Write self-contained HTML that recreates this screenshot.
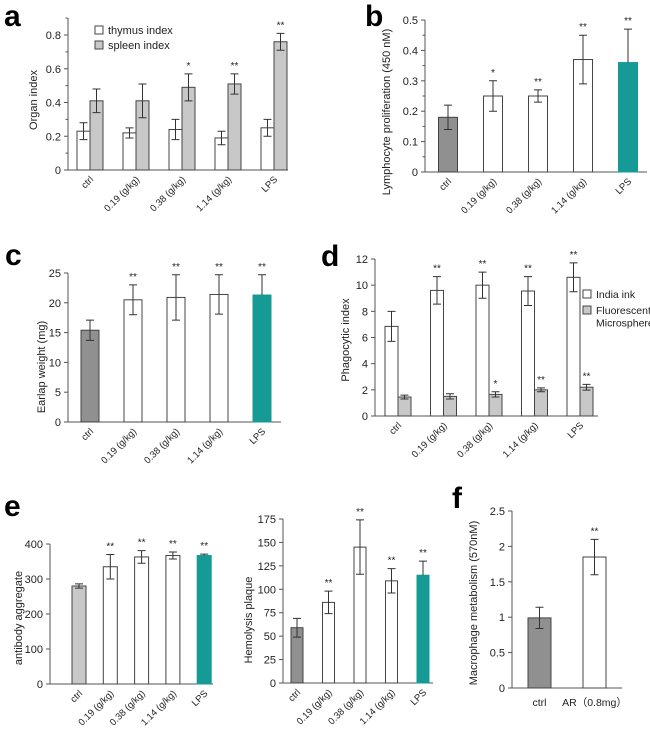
<!DOCTYPE html>
<html><head><meta charset="utf-8"><style>
html,body{margin:0;padding:0;background:#fff;}
svg{display:block;font-family:"Liberation Sans",Arial,sans-serif;}
.pl{font-weight:bold;font-size:30px;fill:#000;}
</style></head><body>
<svg id="fig" width="650" height="731" viewBox="0 0 650 731" xmlns="http://www.w3.org/2000/svg">
<text class="pl" x="4" y="26">a</text>
<text class="pl" x="365" y="26">b</text>
<text class="pl" x="5" y="265">c</text>
<text class="pl" x="321" y="266">d</text>
<text class="pl" x="4" y="516">e</text>
<text class="pl" x="452" y="508">f</text>
</svg>
<script>
const doseCats = ["ctrl","0.19 (g/kg)","0.38 (g/kg)","1.14 (g/kg)","LPS"];
// a
const aThymus = [0.23,0.22,0.24,0.19,0.25];
const aThymusErr = [0.05,0.03,0.06,0.04,0.05];
const aSpleen = [0.41,0.41,0.49,0.51,0.76];
const aSpleenErr = [0.07,0.10,0.08,0.06,0.05];
const aSpleenStars = ["","","*","**","**"];
const aTicks = ["0","0.2","0.4","0.6","0.8"];
// b
const bVals = [0.18,0.25,0.25,0.37,0.36];
const bErr = [0.04,0.05,0.02,0.08,0.11];
const bStars = ["","*","**","**","**"];
const bTicks = ["0","0.1","0.2","0.3","0.4","0.5"];
// c
const cVals = [15.4,20.5,20.9,21.4,21.3];
const cErr = [1.7,2.5,3.8,3.3,3.4];
const cStars = ["","**","**","**","**"];
const cTicks = ["0","5","10","15","20","25"];
// d
const dInk = [6.85,9.6,10.0,9.55,10.6];
const dInkErr = [1.15,1.05,1.0,1.1,1.1];
const dInkStars = ["","**","**","**","**"];
const dFluor = [1.45,1.5,1.65,2.0,2.2];
const dFluorErr = [0.15,0.2,0.2,0.15,0.22];
const dFluorStars = ["","","*","**","**"];
const dTicks = ["0","2","4","6","8","10","12"];
// e left
const eAbVals = [280,335,363,367,367];
const eAbErr = [6,35,18,10,4];
const eAbStars = ["","**","**","**","**"];
const eAbTicks = ["0","100","200","300","400"];
// e right
const eHpVals = [59,86,145,109,115];
const eHpErr = [10,12,29,13,15];
const eHpStars = ["","**","**","**","**"];
const eHpTicks = ["0","25","50","75","100","125","150","175"];
// f
const fCats = ["ctrl","AR（0.8mg）"];
const fVals = [0.99,1.85];
const fErr = [0.15,0.25];
const fStars = ["","**"];
const fTicks = ["0","0.5","1","1.5","2","2.5"];

const NS="http://www.w3.org/2000/svg";
const svg=document.getElementById('fig');
function mk(tag,attrs,parent){const e=document.createElementNS(NS,tag);for(const k in attrs)e.setAttribute(k,attrs[k]);(parent||svg).appendChild(e);return e;}

function chart(c){
  const g=mk('g',{});
  
  
  const max=parseFloat(c.ticks[c.ticks.length-1]);
  const y=v=>c.y0-(v/max)*(c.y0-c.yTop);
  const x=i=>c.x0+i*c.pitch;
  const ya=mk('line',{x1:c.ox,y1:c.axisTop,x2:c.ox,y2:c.y0,stroke:'#555','stroke-width':1},g);
  
  
  const xa=mk('line',{x1:c.ox,y1:c.y0,x2:c.xEnd,y2:c.y0,stroke:'#555','stroke-width':1},g);
  
  
  c.ticks.forEach(t=>{
    const v=parseFloat(t),yy=y(v);
    mk('line',{x1:c.ox-4,y1:yy,x2:c.ox,y2:yy,stroke:'#555'},g);
    const tl=mk('text',{x:c.ox-7,y:yy+4,'text-anchor':'end','font-size':11,fill:'#222'},g);
    tl.textContent=t;
    
    
  });
  if(c.minor){const step=parseFloat(c.ticks[1])/2;for(let v=step;v<=max+step*0.99+(c.extra||0);v+=step*2){const yy=y(v);if(yy>=c.axisTop-0.5)mk('line',{x1:c.ox-2.5,y1:yy,x2:c.ox,y2:yy,stroke:'#555'},g);}}
  const yt=mk('text',{x:0,y:0,'text-anchor':'middle','font-size':11,fill:'#222',transform:`translate(${c.titleX},${c.titleY}) rotate(-90)`},g);
  yt.textContent=c.title;
  
  
  c.cats.forEach((cat,i)=>{
    let t;
    if(c.flatCats){t=mk('text',{x:x(i),y:c.y0+18,'text-anchor':'middle','font-size':10.5,fill:'#222'},g);}
    else{t=mk('text',{x:0,y:0,'text-anchor':'end','font-size':9.5,fill:'#222',transform:`translate(${x(i)+4},${c.y0+10}) rotate(-45)`},g);}
    t.textContent=cat;
    
    
  });
  c.series.forEach(s=>{
    s.vals.forEach((v,i)=>{
      const cx=x(i)+s.off, top=y(v);
      const fill=s.fills[i];
      const r=mk('rect',{x:cx-c.bw/2,y:top,width:c.bw,height:c.y0-top,fill:fill,stroke:fill==='#159a96'?'#159a96':'#444','stroke-width':1},g);
      
      
      const e=s.err[i], hi=y(v+e), lo=y(v-e);
      const teal=fill==='#159a96';
      const eb=mk('path',{d:`M${cx-4},${hi}H${cx+4}M${cx},${hi}V${teal?top:lo}`+(teal?'':`M${cx-4},${lo}H${cx+4}`),stroke:'#333','stroke-width':1,fill:'none'},g);
      
      
      if(s.stars[i]){const st=mk('text',{x:cx,y:hi-5,'text-anchor':'middle','font-size':10,fill:'#222'},g);st.textContent=s.stars[i];
        
        }
    });
  });
}
const W='#ffffff',G='#c8c8c8',D='#909090',T='#159a96';
chart({name:'chart-a',ox:68,y0:170,yTop:35,axisTop:18,xEnd:288,x0:90,pitch:46,bw:13,ticks:aTicks,minor:true,extra:0.1,cats:doseCats,title:'Organ index',titleX:37,titleY:100,
 series:[{key:'thymus',vals:aThymus,err:aThymusErr,stars:["","","","",""],off:-6.5,fills:[W,W,W,W,W]},{key:'spleen',vals:aSpleen,err:aSpleenErr,stars:aSpleenStars,off:6.5,fills:[G,G,G,G,G]}]});
chart({name:'chart-b',ox:425,y0:172,yTop:20,axisTop:20,xEnd:647,x0:448,pitch:45,bw:19,ticks:bTicks,minor:true,cats:doseCats,title:'Lymphocyte proliferation (450 nM)',titleX:390,titleY:112,
 series:[{key:'prolif',vals:bVals,err:bErr,stars:bStars,off:0,fills:[D,W,W,W,T]}]});
chart({name:'chart-c',ox:68,y0:422,yTop:273,axisTop:273,xEnd:281,x0:90,pitch:43,bw:18,ticks:cTicks,cats:doseCats,title:'Earlap weight (mg)',titleX:45,titleY:367,
 series:[{key:'earlap',vals:cVals,err:cErr,stars:cStars,off:0,fills:[D,W,W,W,T]}]});
chart({name:'chart-d',ox:375,y0:416,yTop:259,axisTop:259,xEnd:598,x0:398,pitch:45.5,bw:13,ticks:dTicks,cats:doseCats,title:'Phagocytic index',titleX:349,titleY:340,
 series:[{key:'ink',vals:dInk,err:dInkErr,stars:dInkStars,off:-6.5,fills:[W,W,W,W,W]},{key:'fluor',vals:dFluor,err:dFluorErr,stars:dFluorStars,off:6.5,fills:[G,G,G,G,G]}]});
chart({name:'chart-e-antibody',ox:50,y0:684,yTop:544,axisTop:544,xEnd:213,x0:79,pitch:31.3,bw:14,ticks:eAbTicks,cats:doseCats,title:'antibody aggregate',titleX:22,titleY:618,
 series:[{key:'antibody',vals:eAbVals,err:eAbErr,stars:eAbStars,off:0,fills:[G,W,W,W,T]}]});
chart({name:'chart-e-hemolysis',ox:283,y0:683,yTop:519,axisTop:519,xEnd:433,x0:297,pitch:31.5,bw:12,ticks:eHpTicks,cats:doseCats,title:'Hemolysis plaque',titleX:252,titleY:620,
 series:[{key:'hemolysis',vals:eHpVals,err:eHpErr,stars:eHpStars,off:0,fills:[D,W,W,W,T]}]});
chart({name:'chart-f',ox:512,y0:688,yTop:511,axisTop:511,xEnd:622,x0:539.5,pitch:55,bw:23,ticks:fTicks,cats:fCats,flatCats:true,title:'Macrophage metabolism (570nM)',titleX:477,titleY:603,
 series:[{key:'macrophage',vals:fVals,err:fErr,stars:fStars,off:0,fills:[D,W]}]});
function legend(x,yy,fill,lines,name,fs){
  const r=mk('rect',{x:x,y:yy-8,width:8,height:8,fill:fill,stroke:'#444'});
  
  
  lines.forEach((l,k)=>{const t=mk('text',{x:x+13,y:yy+k*12.5,'font-size':fs,fill:'#222'});t.textContent=l;
    
    });
}
legend(95,34,W,['thymus index'],'legend-thymus',11);
legend(95,49,G,['spleen index'],'legend-spleen',11);
legend(583,298,W,['India ink'],'legend-india-ink',10.5);
legend(583,314,G,['Fluorescent','Microsphere'],'legend-fluorescent',10.5);
</script>
</body></html>
